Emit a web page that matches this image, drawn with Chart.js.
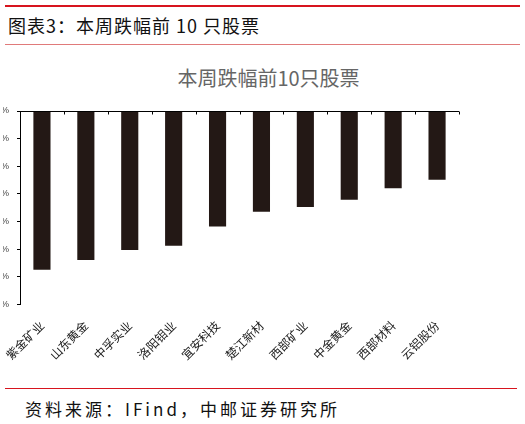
<!DOCTYPE html>
<html>
<head>
<meta charset="utf-8">
<script src="https://cdn.jsdelivr.net/npm/chart.js@4.4.1/dist/chart.umd.min.js"></script>
<style>
  html, body { margin: 0; padding: 0; width: 525px; height: 424px; overflow: hidden; background: #fff; }
  body { position: relative; font-family: "Noto Sans CJK SC", sans-serif; }
  .redTop { position: absolute; left: 5px; top: 5px; width: 515px; height: 2px; background: #d7141e; }
  .head { position: absolute; left: 8px; top: 12px; font-size: 18px; letter-spacing: 1px; color: #111; }
  .redThin { position: absolute; left: 5px; top: 44px; width: 515px; height: 1px; background: #e07a7a; }
  .ctitle { position: absolute; left: 0; width: 537px; top: 63px; text-align: center; font-size: 20px; color: #666; }
  .wrap { position: absolute; left: 3px; top: 50px; width: 520px; height: 320px; overflow: hidden; }
  .redBot { position: absolute; left: 5px; top: 388px; width: 512px; height: 1px; background: #d7141e; }
  .foot { position: absolute; left: 25px; top: 396px; font-size: 17px; letter-spacing: 3px; color: #111; }
</style>
</head>
<body>
<div class="redTop"></div>
<div class="head">图表3：本周跌幅前 10 只股票</div>
<div class="redThin"></div>
<div class="ctitle">本周跌幅前10只股票</div>
<div class="wrap"><div id="box" style="position:absolute;left:-23px;top:0;width:540px;height:320px;"><canvas id="grafico"></canvas></div></div>
<div class="redBot"></div>
<div class="foot">资料来源：IFind，中邮证券研究所</div>

<script>
// Dados do gráfico
const acoes = ['紫金矿业', '山东黄金', '中孚实业', '洛阳钼业', '宜安科技', '楚江新材', '西部矿业', '中金黄金', '西部材料', '云铝股份']
const quedas = [-11.5, -10.8, -10.06, -9.76, -8.36, -7.3, -6.96, -6.42, -5.6, -4.98]
const ticksY = [0, -2, -4, -6, -8, -10, -12, -14]

// linha do zero e tracinhos das categorias (para dentro da área)
const linhaZero = {
    id: 'linhaZero',
    afterDatasetsDraw(chart) {
        const x = chart.scales.x
        const y = chart.scales.y
        const c = chart.ctx
        const y0 = Math.round(y.getPixelForValue(0)) + 0.5
        c.save()
        c.strokeStyle = '#000'
        c.lineWidth = 1
        c.beginPath()
        c.moveTo(x.left, y0)
        c.lineTo(x.right, y0)
        const passo = (x.right - x.left) / acoes.length
        for (let i = 1; i <= acoes.length; i++) {
            const px = Math.round(x.left + passo * i) + 0.5
            c.moveTo(px, y0)
            c.lineTo(px, y0 + 3)
        }
        c.stroke()
        c.restore()
    }
}

const ctx = document.getElementById('grafico')
new Chart(ctx, {
    type: 'bar',
    data: {
        labels: acoes,
        datasets: [{
            label: '跌幅',
            data: quedas,
            backgroundColor: '#231815',
            borderWidth: 0,
            categoryPercentage: 1,
            barPercentage: 0.39
        }]
    },
    options: {
        responsive: true,
        maintainAspectRatio: false,
        animation: false,
        layout: { padding: { top: 61, right: 61, left: 0, bottom: 0 } },
        plugins: {
            legend: { display: false },
            tooltip: { enabled: false }
        },
        scales: {
            x: {
                grid: { display: false, drawTicks: false },
                border: { display: false },
                ticks: {
                    minRotation: 45,
                    maxRotation: 45,
                    autoSkip: false,
                    padding: 14,
                    color: '#222',
                    font: { size: 12, family: '"Noto Sans CJK SC"' }
                },
                afterFit: s => { s.height = 65.7 }
            },
            y: {
                min: -14,
                max: 0,
                afterBuildTicks: s => { s.ticks = ticksY.map(v => ({ value: v })) },
                grid: { drawOnChartArea: false, tickLength: 3, color: '#000' },
                border: { color: '#000' },
                ticks: {
                    padding: 8,
                    color: '#444',
                    font: { size: 9, family: 'Arial' },
                    callback: v => v + '%'
                },
                afterFit: s => { s.width = 40 }
            }
        }
    },
    plugins: [linhaZero]
})
</script>
</body>
</html>
